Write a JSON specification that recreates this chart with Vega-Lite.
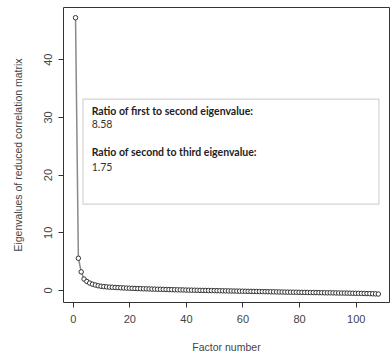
{
  "$schema": "https://vega.github.io/schema/vega-lite/v6.json",
  "width": 326,
  "height": 295,
  "autosize": "none",
  "padding": {"left": 63, "top": 7, "right": 2, "bottom": 55},
  "background": "white",
  "config": {
    "view": {"stroke": "#333", "strokeWidth": 1},
    "axis": {
      "domain": false,
      "grid": false,
      "tickColor": "#333",
      "tickSize": 5,
      "labelFont": "Liberation Sans",
      "labelFontSize": 11,
      "labelColor": "#444",
      "titleFont": "Liberation Sans",
      "titleFontSize": 10.5,
      "titleFontWeight": "normal",
      "titleColor": "#444"
    }
  },
  "datasets": {
    "eig": [
      {"factor": 1, "eigenvalue": 47.19}, {"factor": 2, "eigenvalue": 5.5}, {"factor": 3, "eigenvalue": 3.14},
      {"factor": 4, "eigenvalue": 1.9}, {"factor": 5, "eigenvalue": 1.48}, {"factor": 6, "eigenvalue": 1.2},
      {"factor": 7, "eigenvalue": 1.0}, {"factor": 8, "eigenvalue": 0.86}, {"factor": 9, "eigenvalue": 0.74},
      {"factor": 10, "eigenvalue": 0.65}, {"factor": 11, "eigenvalue": 0.59}, {"factor": 12, "eigenvalue": 0.54},
      {"factor": 13, "eigenvalue": 0.5}, {"factor": 14, "eigenvalue": 0.47}, {"factor": 15, "eigenvalue": 0.44},
      {"factor": 16, "eigenvalue": 0.41}, {"factor": 17, "eigenvalue": 0.38}, {"factor": 18, "eigenvalue": 0.36},
      {"factor": 19, "eigenvalue": 0.33}, {"factor": 20, "eigenvalue": 0.31}, {"factor": 21, "eigenvalue": 0.29},
      {"factor": 22, "eigenvalue": 0.27}, {"factor": 23, "eigenvalue": 0.25}, {"factor": 24, "eigenvalue": 0.23},
      {"factor": 25, "eigenvalue": 0.21}, {"factor": 26, "eigenvalue": 0.2}, {"factor": 27, "eigenvalue": 0.18},
      {"factor": 28, "eigenvalue": 0.16}, {"factor": 29, "eigenvalue": 0.15}, {"factor": 30, "eigenvalue": 0.13},
      {"factor": 31, "eigenvalue": 0.12}, {"factor": 32, "eigenvalue": 0.1}, {"factor": 33, "eigenvalue": 0.09},
      {"factor": 34, "eigenvalue": 0.07}, {"factor": 35, "eigenvalue": 0.06}, {"factor": 36, "eigenvalue": 0.05},
      {"factor": 37, "eigenvalue": 0.03}, {"factor": 38, "eigenvalue": 0.02}, {"factor": 39, "eigenvalue": 0.01},
      {"factor": 40, "eigenvalue": -0.01}, {"factor": 41, "eigenvalue": -0.02}, {"factor": 42, "eigenvalue": -0.03},
      {"factor": 43, "eigenvalue": -0.04}, {"factor": 44, "eigenvalue": -0.05}, {"factor": 45, "eigenvalue": -0.06},
      {"factor": 46, "eigenvalue": -0.07}, {"factor": 47, "eigenvalue": -0.08}, {"factor": 48, "eigenvalue": -0.09},
      {"factor": 49, "eigenvalue": -0.1}, {"factor": 50, "eigenvalue": -0.11}, {"factor": 51, "eigenvalue": -0.12},
      {"factor": 52, "eigenvalue": -0.13}, {"factor": 53, "eigenvalue": -0.14}, {"factor": 54, "eigenvalue": -0.15},
      {"factor": 55, "eigenvalue": -0.16}, {"factor": 56, "eigenvalue": -0.17}, {"factor": 57, "eigenvalue": -0.18},
      {"factor": 58, "eigenvalue": -0.19}, {"factor": 59, "eigenvalue": -0.2}, {"factor": 60, "eigenvalue": -0.21},
      {"factor": 61, "eigenvalue": -0.22}, {"factor": 62, "eigenvalue": -0.23}, {"factor": 63, "eigenvalue": -0.24},
      {"factor": 64, "eigenvalue": -0.25}, {"factor": 65, "eigenvalue": -0.26}, {"factor": 66, "eigenvalue": -0.27},
      {"factor": 67, "eigenvalue": -0.28}, {"factor": 68, "eigenvalue": -0.29}, {"factor": 69, "eigenvalue": -0.3},
      {"factor": 70, "eigenvalue": -0.31}, {"factor": 71, "eigenvalue": -0.32}, {"factor": 72, "eigenvalue": -0.33},
      {"factor": 73, "eigenvalue": -0.34}, {"factor": 74, "eigenvalue": -0.35}, {"factor": 75, "eigenvalue": -0.36},
      {"factor": 76, "eigenvalue": -0.37}, {"factor": 77, "eigenvalue": -0.38}, {"factor": 78, "eigenvalue": -0.38},
      {"factor": 79, "eigenvalue": -0.39}, {"factor": 80, "eigenvalue": -0.4}, {"factor": 81, "eigenvalue": -0.41},
      {"factor": 82, "eigenvalue": -0.42}, {"factor": 83, "eigenvalue": -0.43}, {"factor": 84, "eigenvalue": -0.44},
      {"factor": 85, "eigenvalue": -0.44}, {"factor": 86, "eigenvalue": -0.45}, {"factor": 87, "eigenvalue": -0.46},
      {"factor": 88, "eigenvalue": -0.47}, {"factor": 89, "eigenvalue": -0.48}, {"factor": 90, "eigenvalue": -0.49},
      {"factor": 91, "eigenvalue": -0.49}, {"factor": 92, "eigenvalue": -0.5}, {"factor": 93, "eigenvalue": -0.51},
      {"factor": 94, "eigenvalue": -0.52}, {"factor": 95, "eigenvalue": -0.53}, {"factor": 96, "eigenvalue": -0.53},
      {"factor": 97, "eigenvalue": -0.54}, {"factor": 98, "eigenvalue": -0.55}, {"factor": 99, "eigenvalue": -0.56},
      {"factor": 100, "eigenvalue": -0.57}, {"factor": 101, "eigenvalue": -0.58}, {"factor": 102, "eigenvalue": -0.59},
      {"factor": 103, "eigenvalue": -0.6}, {"factor": 104, "eigenvalue": -0.62}, {"factor": 105, "eigenvalue": -0.63},
      {"factor": 106, "eigenvalue": -0.65}, {"factor": 107, "eigenvalue": -0.67}, {"factor": 108, "eigenvalue": -0.7}
    ],
    "box": [{"x1": 3.64, "x2": 108.2, "y1": 14.9, "y2": 33.1}],
    "note": [
      {"kind": "heading", "x": 6.7, "y": 30.9, "label": "Ratio of first to second eigenvalue:"},
      {"kind": "value", "x": 6.7, "y": 28.6, "label": "8.58"},
      {"kind": "heading", "x": 6.7, "y": 23.7, "label": "Ratio of second to third eigenvalue:"},
      {"kind": "value", "x": 6.7, "y": 21.1, "label": "1.75"}
    ]
  },
  "layer": [
    {
      "data": {"name": "box"},
      "mark": {"type": "rect", "fill": "white", "stroke": "#d4d4d4", "strokeWidth": 1.2},
      "encoding": {
        "x": {"field": "x1", "type": "quantitative", "scale": {"domain": [-3.43, 111.77], "nice": false, "zero": false}},
        "x2": {"field": "x2"},
        "y": {"field": "y1", "type": "quantitative", "scale": {"domain": [-2.08, 49.05], "nice": false, "zero": false}},
        "y2": {"field": "y2"}
      }
    },
    {
      "data": {"name": "eig"},
      "mark": {"type": "line", "color": "#8a8a8a", "strokeWidth": 1.5},
      "encoding": {
        "x": {"field": "factor", "type": "quantitative"},
        "y": {"field": "eigenvalue", "type": "quantitative"}
      }
    },
    {
      "data": {"name": "eig"},
      "mark": {"type": "point", "shape": "circle", "fill": "white", "stroke": "#333", "strokeWidth": 1, "size": 20, "opacity": 1, "fillOpacity": 1},
      "encoding": {
        "x": {"field": "factor", "type": "quantitative", "title": "Factor number",
              "axis": {"values": [0, 20, 40, 60, 80, 100], "labelPadding": 6, "titlePadding": 18}},
        "y": {"field": "eigenvalue", "type": "quantitative", "title": "Eigenvalues of reduced correlation matrix",
              "axis": {"values": [0, 10, 20, 30, 40], "labelAngle": -90, "labelPadding": 5, "titlePadding": 19}}
      }
    },
    {
      "data": {"name": "note"},
      "transform": [{"filter": "datum.kind === 'heading'"}],
      "mark": {"type": "text", "align": "left", "baseline": "middle", "font": "Lato", "fontSize": 10.5, "fontWeight": "bold", "color": "#222"},
      "encoding": {
        "x": {"field": "x", "type": "quantitative"},
        "y": {"field": "y", "type": "quantitative"},
        "text": {"field": "label"}
      }
    },
    {
      "data": {"name": "note"},
      "transform": [{"filter": "datum.kind === 'value'"}],
      "mark": {"type": "text", "align": "left", "baseline": "middle", "font": "Lato", "fontSize": 10.5, "color": "#333"},
      "encoding": {
        "x": {"field": "x", "type": "quantitative"},
        "y": {"field": "y", "type": "quantitative"},
        "text": {"field": "label"}
      }
    }
  ]
}
